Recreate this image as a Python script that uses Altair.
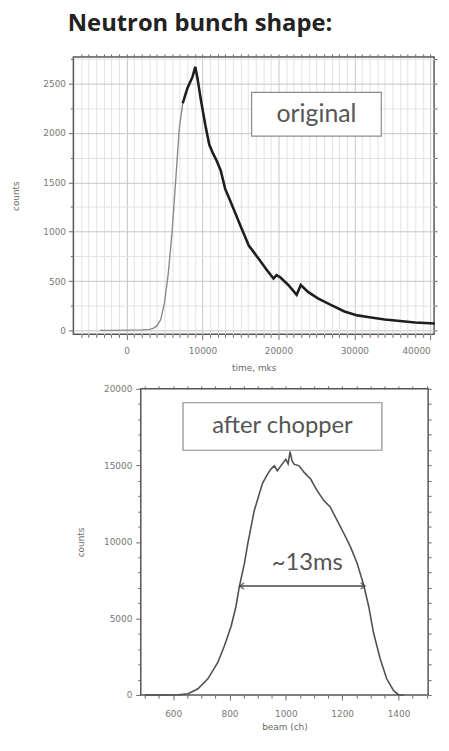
import altair as alt
import pandas as pd

# ---------------- data ----------------
main_title = "Neutron bunch shape:"

# top panel: original neutron bunch (time, mks vs counts)
top_time = [-3500, -2000, 0, 2000, 3000, 3500, 4000, 4500, 5000, 5500, 6000, 6500, 6950,
            7400, 8000, 8700, 9050, 9350, 9800, 10400, 10900, 11400, 11800, 12400, 13000,
            13500, 14100, 15000, 16100, 17400, 18500, 19350, 19750, 20200, 21300, 22400,
            22950, 23900, 25200, 26900, 28700, 30400, 32200, 34000, 36000, 38000, 40600]
top_counts = [0, 0, 3, 5, 10, 20, 45, 110, 280, 580, 1000, 1550, 2050,
              2300, 2450, 2570, 2670, 2550, 2330, 2070, 1880, 1790, 1730, 1620, 1430,
              1340, 1230, 1060, 860, 725, 610, 525, 560, 540, 460, 360,
              460, 390, 325, 258, 192, 152, 130, 110, 95, 80, 70]
thin_until = 7400  # rising edge drawn thin

# bottom panel: after chopper (beam ch vs counts)
beam_ch = [500, 560, 620, 653, 688, 723, 759, 782, 806, 823, 835, 853, 865, 888, 917, 935,
           947, 959, 970, 982, 1000, 1008, 1015, 1022, 1029, 1047, 1065, 1088, 1111, 1135,
           1158, 1182, 1206, 1229, 1253, 1276, 1294, 1311, 1335, 1358, 1382, 1400, 1420]
beam_counts = [0, 0, 20, 80, 410, 1055, 2140, 3220, 4510, 5800, 7100, 8600, 9900, 12060,
               13830, 14430, 14760, 14970, 14650, 14970, 15400, 15100, 15900, 15300, 15080,
               14970, 14540, 14110, 13350, 12700, 12270, 11410, 10550, 9690, 8610, 7200,
               5800, 4080, 2350, 1060, 300, 20, 0]

# annotations (data coordinates)
top_label = "original"
top_box_x = [16470, 33550]
top_box_y = [1968, 2410]

bottom_label = "after chopper"
bottom_box_x = [635, 1341]
bottom_box_y = [15990, 19090]

width_label = "~13ms"
width_label_pos = [1076, 8600]
arrow_x = [836, 1281]
arrow_y = 7120

top_x_ticks = list(range(-6000, 40001, 1000))
top_y_ticks = list(range(0, 2751, 250))
bot_x_ticks = list(range(500, 1501, 50))
bot_y_ticks = list(range(0, 20001, 1000))

# ---------------- frames ----------------
top_df = pd.DataFrame({"t": top_time, "c": top_counts})
thin_df = top_df[top_df.t <= thin_until]
thick_df = top_df[top_df.t >= thin_until]
bot_df = pd.DataFrame({"b": beam_ch, "c": beam_counts})

LBL = dict(labelFont="DejaVu Sans", labelFontSize=9, labelColor="#777",
           titleFont="DejaVu Sans", titleFontSize=9, titleColor="#666",
           titleFontWeight="normal", domain=False)

top_xdom = [-7000, 40500]
top_ydom = [-40, 2770]

xs_top = alt.Scale(domain=top_xdom, nice=False, zero=False)
ys_top = alt.Scale(domain=top_ydom, nice=False, zero=False)

top_x_axis = alt.Axis(
    orient="bottom", values=top_x_ticks, title="time, mks", format="d",
    labelExpr="datum.value % 10000 === 0 ? datum.label : ''",
    labelAlign=alt.condition("datum.value === 40000", alt.value("right"), alt.value("center")),
    tickSize=alt.condition("datum.value % 10000 === 0", alt.value(5), alt.value(3)),
    tickColor="#666", grid=True,
    gridColor=alt.condition("datum.value % 10000 === 0", alt.value("#c4c4c4"), alt.value("#e2e2e2")),
    labelPadding=7, titlePadding=8, labelOverlap=False, **LBL)
top_y_axis = alt.Axis(
    orient="left", values=top_y_ticks, title="counts", format="d",
    labelExpr="datum.value % 500 === 0 ? datum.label : ''",
    tickSize=alt.condition("datum.value % 500 === 0", alt.value(5), alt.value(3)),
    tickColor="#666", grid=True,
    gridColor=alt.condition("datum.value % 500 === 0", alt.value("#c4c4c4"), alt.value("#e2e2e2")),
    labelPadding=3, titlePadding=22, labelOverlap=False, **LBL)

top_thin = alt.Chart(thin_df).mark_line(color="#8a8a8a", strokeWidth=1.4).encode(
    x=alt.X("t:Q", scale=xs_top, axis=top_x_axis),
    y=alt.Y("c:Q", scale=ys_top, axis=top_y_axis))
top_thick = alt.Chart(thick_df).mark_line(color="#1e1e1e", strokeWidth=2.6).encode(
    x=alt.X("t:Q", scale=xs_top, axis=None), y=alt.Y("c:Q", scale=ys_top, axis=None))
top_ghost = alt.Chart(top_df).mark_line(opacity=0).encode(
    x=alt.X("t:Q", scale=xs_top, axis=alt.Axis(orient="top", values=top_x_ticks, labels=False, title=None,
                                                tickSize=3, tickColor="#666", grid=False, domain=False)),
    y=alt.Y("c:Q", scale=ys_top, axis=alt.Axis(orient="right", values=top_y_ticks, labels=False, title=None,
                                                tickSize=3, tickColor="#666", grid=False, domain=False)))

top_box_df = pd.DataFrame({"x": [top_box_x[0]], "x2": [top_box_x[1]],
                           "y": [top_box_y[0]], "y2": [top_box_y[1]],
                           "tx": [(top_box_x[0] + top_box_x[1]) / 2],
                           "ty": [(top_box_y[0] + top_box_y[1]) / 2], "label": [top_label]})
top_box = alt.Chart(top_box_df).mark_rect(fill="white", stroke="#8c8c8c", strokeWidth=1.2).encode(
    x=alt.X("x:Q", scale=xs_top, axis=None), x2="x2", y=alt.Y("y:Q", scale=ys_top, axis=None), y2="y2")
top_text = alt.Chart(top_box_df).mark_text(font="Lato", fontSize=25, color="#555",
                                           baseline="middle", align="center").encode(
    x=alt.X("tx:Q", scale=xs_top, axis=None), y=alt.Y("ty:Q", scale=ys_top, axis=None), text="label:N")

top_chart = alt.layer(top_thin, top_ghost, top_thick, top_box, top_text).resolve_axis(
    x="independent", y="independent").properties(
    width=364, height=280, view=alt.ViewBackground(stroke="#555", strokeWidth=1.5))

# bottom
bot_xdom = [485, 1505]
bot_ydom = [0, 20000]
xs_bot = alt.Scale(domain=bot_xdom, nice=False, zero=False)
ys_bot = alt.Scale(domain=bot_ydom, nice=False, zero=False)

bot_x_axis = alt.Axis(
    orient="bottom", values=bot_x_ticks, title="beam (ch)", format="d",
    labelExpr="datum.value % 200 === 0 && datum.value >= 600 && datum.value <= 1400 ? datum.label : ''",
    tickSize=alt.condition("datum.value % 200 === 0", alt.value(5), alt.value(3)),
    tickColor="#666", grid=False, labelPadding=10, titlePadding=4, labelOverlap=False, **LBL)
bot_y_axis = alt.Axis(
    orient="left", values=bot_y_ticks, title="counts", format="d",
    labelExpr="datum.value % 5000 === 0 ? datum.label : ''",
    tickSize=alt.condition("datum.value % 5000 === 0", alt.value(5), alt.value(3)),
    tickColor="#666", grid=False, labelPadding=4, titlePadding=18, labelOverlap=False, **LBL)

bot_line = alt.Chart(bot_df).mark_line(color="#505050", strokeWidth=1.6).encode(
    x=alt.X("b:Q", scale=xs_bot, axis=bot_x_axis),
    y=alt.Y("c:Q", scale=ys_bot, axis=bot_y_axis))
bot_ghost = alt.Chart(bot_df).mark_line(opacity=0).encode(
    x=alt.X("b:Q", scale=xs_bot, axis=alt.Axis(orient="top", values=bot_x_ticks, labels=False, title=None,
                                                tickSize=3, tickColor="#666", grid=False, domain=False)),
    y=alt.Y("c:Q", scale=ys_bot, axis=alt.Axis(orient="right", values=bot_y_ticks, labels=False, title=None,
                                                tickSize=3, tickColor="#666", grid=False, domain=False)))

bot_box_df = pd.DataFrame({"x": [bottom_box_x[0]], "x2": [bottom_box_x[1]],
                           "y": [bottom_box_y[0]], "y2": [bottom_box_y[1]],
                           "tx": [(bottom_box_x[0] + bottom_box_x[1]) / 2],
                           "ty": [(bottom_box_y[0] + bottom_box_y[1]) / 2], "label": [bottom_label]})
bot_box = alt.Chart(bot_box_df).mark_rect(fill="white", stroke="#8c8c8c", strokeWidth=1.2).encode(
    x=alt.X("x:Q", scale=xs_bot, axis=None), x2="x2", y=alt.Y("y:Q", scale=ys_bot, axis=None), y2="y2")
bot_text = alt.Chart(bot_box_df).mark_text(font="Lato", fontSize=24, color="#555",
                                           baseline="middle", align="center").encode(
    x=alt.X("tx:Q", scale=xs_bot, axis=None), y=alt.Y("ty:Q", scale=ys_bot, axis=None), text="label:N")

w_df = pd.DataFrame({"x": [width_label_pos[0]], "y": [width_label_pos[1]], "label": [width_label]})
w_text = alt.Chart(w_df).mark_text(font="Lato", fontSize=24, color="#555",
                                   baseline="middle", align="center").encode(
    x=alt.X("x:Q", scale=xs_bot, axis=None), y=alt.Y("y:Q", scale=ys_bot, axis=None), text="label:N")

arr_df = pd.DataFrame({"x": [arrow_x[0]], "x2": [arrow_x[1]], "y": [arrow_y]})
arr_rule = alt.Chart(arr_df).mark_rule(color="#444", strokeWidth=1.5).encode(
    x=alt.X("x:Q", scale=xs_bot, axis=None), x2="x2", y=alt.Y("y:Q", scale=ys_bot, axis=None))
heads_df = pd.DataFrame({"x": arrow_x, "y": [arrow_y, arrow_y],
                         "side": ["left", "right"]})
head_l = alt.Chart(heads_df[heads_df.side == "left"]).mark_point(
    shape="M1,-0.7L0,0L1,0.7", filled=False, stroke="#444", strokeWidth=1.5, size=80).encode(
    x=alt.X("x:Q", scale=xs_bot, axis=None), y=alt.Y("y:Q", scale=ys_bot, axis=None))
head_r = alt.Chart(heads_df[heads_df.side == "right"]).mark_point(
    shape="M-1,-0.7L0,0L-1,0.7", filled=False, stroke="#444", strokeWidth=1.5, size=80).encode(
    x=alt.X("x:Q", scale=xs_bot, axis=None), y=alt.Y("y:Q", scale=ys_bot, axis=None))

bot_chart = alt.layer(bot_line, bot_ghost, bot_box, bot_text, w_text, arr_rule, head_l, head_r).resolve_axis(
    x="independent", y="independent").properties(
    width=290, height=309, view=alt.ViewBackground(stroke="#555", strokeWidth=1.5))

spacer = alt.Chart(pd.DataFrame({"a": [0]})).mark_point(opacity=0, size=0, strokeWidth=0).encode(
    x=alt.value(0.5), y=alt.value(5)).properties(
    width=1, height=309, view=alt.ViewBackground(stroke="transparent"))

bottom_row = alt.hconcat(spacer, bot_chart, spacing=0)

chart = alt.vconcat(top_chart, bottom_row, spacing=11).properties(
    title=alt.TitleParams(main_title, anchor="start", font="Open Sans", fontSize=24,
                          fontWeight="bold", color="#222", offset=17, dx=57, baseline="top"),
    padding={"left": 3, "top": 0, "right": 0, "bottom": 0}
).configure(background="white")

chart.save("out.html", embed_options={"renderer": "svg", "actions": False})
